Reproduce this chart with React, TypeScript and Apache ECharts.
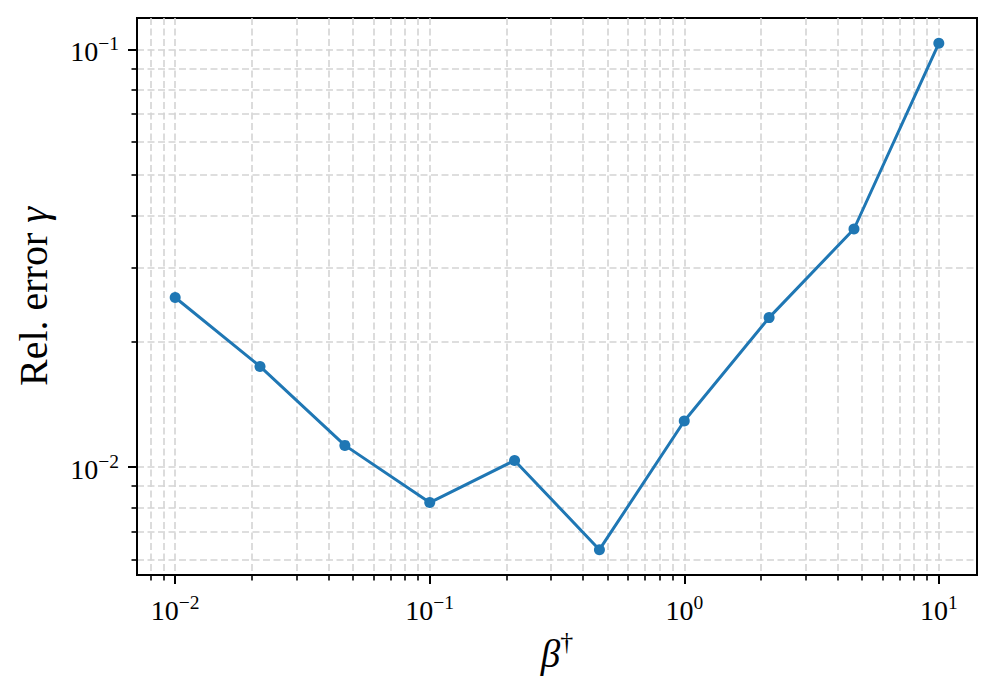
import React, { useEffect, useRef } from "react";
import * as echarts from "echarts";

// Data
const betaValues: number[] = [0.01, 0.02154, 0.04642, 0.1, 0.2154, 0.4642, 1, 2.154, 4.642, 10];
const relErrors: number[] = [0.02547, 0.01742, 0.01127, 0.00822, 0.01037, 0.00634, 0.01289, 0.0228, 0.03717, 0.1035];

const xMajorTicks: number[] = [0.01, 0.1, 1, 10];
const xMinorTicks: number[] = [0.008, 0.009, 0.02, 0.03, 0.04, 0.05, 0.06, 0.07, 0.08, 0.09, 0.2, 0.3, 0.4, 0.5, 0.6, 0.7, 0.8, 0.9, 2, 3, 4, 5, 6, 7, 8, 9];
const yMajorTicks: number[] = [0.01, 0.1];
const yMinorTicks: number[] = [0.006, 0.007, 0.008, 0.009, 0.02, 0.03, 0.04, 0.05, 0.06, 0.07, 0.08, 0.09];

const FONT = "'Liberation Serif', 'DejaVu Serif', serif";
const GRID_COLOR = "#d4d4d4";
const DASH = [7, 3.5];

const lg = (v: number) => Math.log10(v);

function logLimits(vals: number[]): [number, number] {
  const l = vals.map(lg);
  const lo = Math.min(...l);
  const hi = Math.max(...l);
  const m = (hi - lo) * 0.05;
  return [lo - m, hi + m];
}

const powLabel = (v: number) => {
  const e = Math.round(v);
  const s = e < 0 ? "\u2212" + Math.abs(e) : String(e);
  return `{b|10}{s|${s}}`;
};

const tickRich = {
  b: { fontSize: 28, fontFamily: FONT, color: "#000", lineHeight: 32, verticalAlign: "bottom" },
  s: { fontSize: 19.5, fontFamily: FONT, color: "#000", lineHeight: 20, verticalAlign: "top" },
};

export default function App() {
  const ref = useRef<HTMLDivElement>(null);
  useEffect(() => {
    document.body.style.margin = "0";
    if (!ref.current) return;
    const chart = echarts.init(ref.current, undefined, { renderer: "svg" });
    const [xMin, xMax] = logLimits(betaValues);
    const [yMin, yMax] = logLimits(relErrors);
    const xMaj = xMajorTicks.map(lg);
    const xMin2 = xMinorTicks.map(lg).filter((v) => v > xMin && v < xMax);
    const yMaj = yMajorTicks.map(lg);
    const yMin2 = yMinorTicks.map(lg).filter((v) => v > yMin && v < yMax);

    const splitLine = { show: true, lineStyle: { color: GRID_COLOR, width: 1.6, type: DASH } };

    chart.setOption({
      animation: false,
      backgroundColor: "#fff",
      grid: {
        left: 137,
        right: 19,
        top: 18,
        bottom: 114,
        show: true,
        borderColor: "#000",
        borderWidth: 2,
        containLabel: false,
      },
      xAxis: [
        {
          type: "value",
          min: xMin,
          max: xMax,
          position: "bottom",
          axisLine: { show: true, onZero: false, lineStyle: { color: "#000", width: 2 } },
          axisTick: { show: true, length: 9, customValues: xMaj, lineStyle: { color: "#000", width: 2 } },
          axisLabel: { show: true, customValues: xMaj, formatter: powLabel, margin: 17, rich: tickRich },
          splitLine,
          name: "{g|\u03B2}{s|\u2020}",
          nameLocation: "middle",
          nameGap: 50,
          nameTextStyle: {
            rich: {
              g: { fontSize: 39, fontFamily: FONT, fontStyle: "italic", color: "#000", lineHeight: 44, verticalAlign: "bottom" },
              s: { fontSize: 26, fontFamily: FONT, color: "#000", lineHeight: 26, verticalAlign: "top" },
            },
          },
        },
        {
          type: "value",
          min: xMin,
          max: xMax,
          position: "bottom",
          axisLine: { show: false, onZero: false },
          axisTick: { show: true, length: 5.5, customValues: xMin2, lineStyle: { color: "#000", width: 1.6 } },
          axisLabel: { show: false },
          splitLine,
        },
      ],
      yAxis: [
        {
          type: "value",
          min: yMin,
          max: yMax,
          position: "left",
          axisLine: { show: true, onZero: false, lineStyle: { color: "#000", width: 2 } },
          axisTick: { show: true, length: 9, customValues: yMaj, lineStyle: { color: "#000", width: 2 } },
          axisLabel: { show: true, customValues: yMaj, formatter: powLabel, margin: 18, rich: tickRich },
          splitLine,
          name: "{r|Rel. error }{g|\u03B3}",
          nameLocation: "middle",
          nameGap: 82,
          nameRotate: 90,
          nameTextStyle: {
            rich: {
              r: { fontSize: 40, fontFamily: FONT, color: "#000", lineHeight: 44 },
              g: { fontSize: 40, fontFamily: FONT, fontStyle: "italic", color: "#000", lineHeight: 44 },
            },
          },
        },
        {
          type: "value",
          min: yMin,
          max: yMax,
          position: "left",
          axisLine: { show: false, onZero: false },
          axisTick: { show: true, length: 5.5, customValues: yMin2, lineStyle: { color: "#000", width: 1.6 } },
          axisLabel: { show: false },
          splitLine,
        },
      ],
      series: [
        {
          type: "line",
          xAxisIndex: 0,
          yAxisIndex: 0,
          data: betaValues.map((b, i) => [lg(b), lg(relErrors[i])]),
          symbol: "circle",
          symbolSize: 11,
          showSymbol: true,
          itemStyle: { color: "#1f77b4" },
          lineStyle: { color: "#1f77b4", width: 3 },
          z: 10,
        },
      ],
    });
    return () => chart.dispose();
  }, []);
  return <div ref={ref} style={{ width: 996, height: 689 }} />;
}
